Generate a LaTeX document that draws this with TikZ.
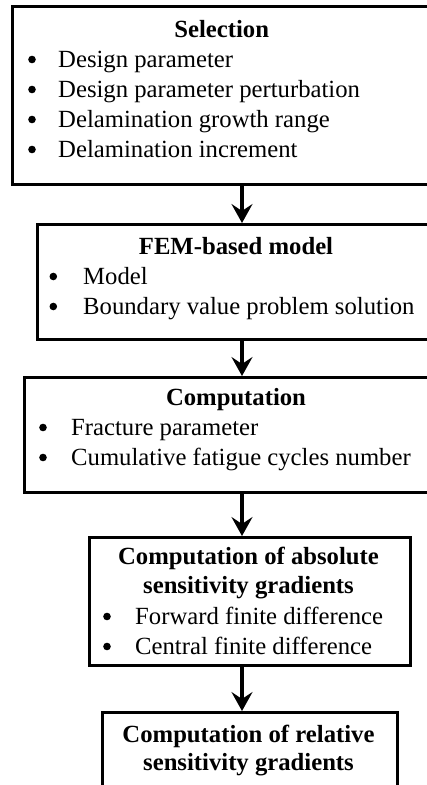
\documentclass[tikz,border=0pt]{standalone}
\usepackage{fontspec}
\setmainfont{Liberation Serif}
\usetikzlibrary{arrows.meta}
\begin{document}
\begin{tikzpicture}[x=1pt,y=-1pt,
  box/.style={draw=black,line width=2.6pt,anchor=north west,inner sep=0pt},
  txt/.style={anchor=base west,inner sep=0pt,font=\fontsize{24.7}{30}\selectfont},
  ttl/.style={anchor=base,inner sep=0pt,font=\fontsize{24.7}{30}\selectfont\bfseries},
  bul/.style={circle,fill=black,inner sep=0pt,minimum size=7.6pt},
  arr/.style={line width=4pt,-{Stealth[length=19pt,width=21pt,inset=7pt]}}]
\useasboundingbox (0,0) rectangle (427,785);
\clip (0,0) rectangle (427,785);
% boxes
\node[box,minimum width=430pt,minimum height=178pt] (b1) at (11,5) {};
\node[box,minimum width=420pt,minimum height=115pt] (b2) at (36,223) {};
\node[box,minimum width=426pt,minimum height=115pt] (b3) at (23,376) {};
\node[box,minimum width=321pt,minimum height=128pt] (b4) at (88,536) {};
\node[box,minimum width=295pt,minimum height=100pt] (b5) at (101,711) {};
% box 1
\node[ttl] (t1) at (221.7,37) {Selection};
\node[bul] (p11) at (32,59.5) {}; \node[txt] (s11) at (58,67) {Design parameter};
\node[bul] (p12) at (32,89.5) {}; \node[txt] (s12) at (58,97) {Design parameter perturbation};
\node[bul] (p13) at (32,119.5) {}; \node[txt] (s13) at (58,127) {Delamination growth range};
\node[bul] (p14) at (32,149.5) {}; \node[txt] (s14) at (58,157) {Delamination increment};
% box 2
\node[ttl] (t2) at (236,254) {FEM-based model};
\node[bul] (p21) at (53.3,276.5) {}; \node[txt] (s21) at (83,284) {Model};
\node[bul] (p22) at (53.3,306.5) {}; \node[txt] (s22) at (83,314) {Boundary value problem solution};
% box 3
\node[ttl] (t3) at (236,405) {Computation};
\node[bul] (p31) at (43,427.5) {}; \node[txt] (s31) at (71,435) {Fracture parameter};
\node[bul] (p32) at (43,457.5) {}; \node[txt] (s32) at (71,465) {Cumulative fatigue cycles number};
% box 4
\node[ttl] (t4a) at (248.5,564) {Computation of absolute};
\node[ttl] (t4b) at (248.5,593) {sensitivity gradients};
\node[bul] (p41) at (107,616.5) {}; \node[txt] (s41) at (135,624) {Forward finite difference};
\node[bul] (p42) at (107,646.5) {}; \node[txt] (s42) at (135,654) {Central finite difference};
% box 5
\node[ttl] (t5a) at (248.5,742.5) {Computation of relative};
\node[ttl] (t5b) at (248.5,770.5) {sensitivity gradients};
% arrows
\coordinate (ax) at (242,0);
\draw[arr] (b1.south -| ax) -- (b2.north -| ax);
\draw[arr] (b2.south -| ax) -- (b3.north -| ax);
\draw[arr] (b3.south -| ax) -- (b4.north -| ax);
\draw[arr] (b4.south -| ax) -- (b5.north -| ax);
\end{tikzpicture}
\end{document}
